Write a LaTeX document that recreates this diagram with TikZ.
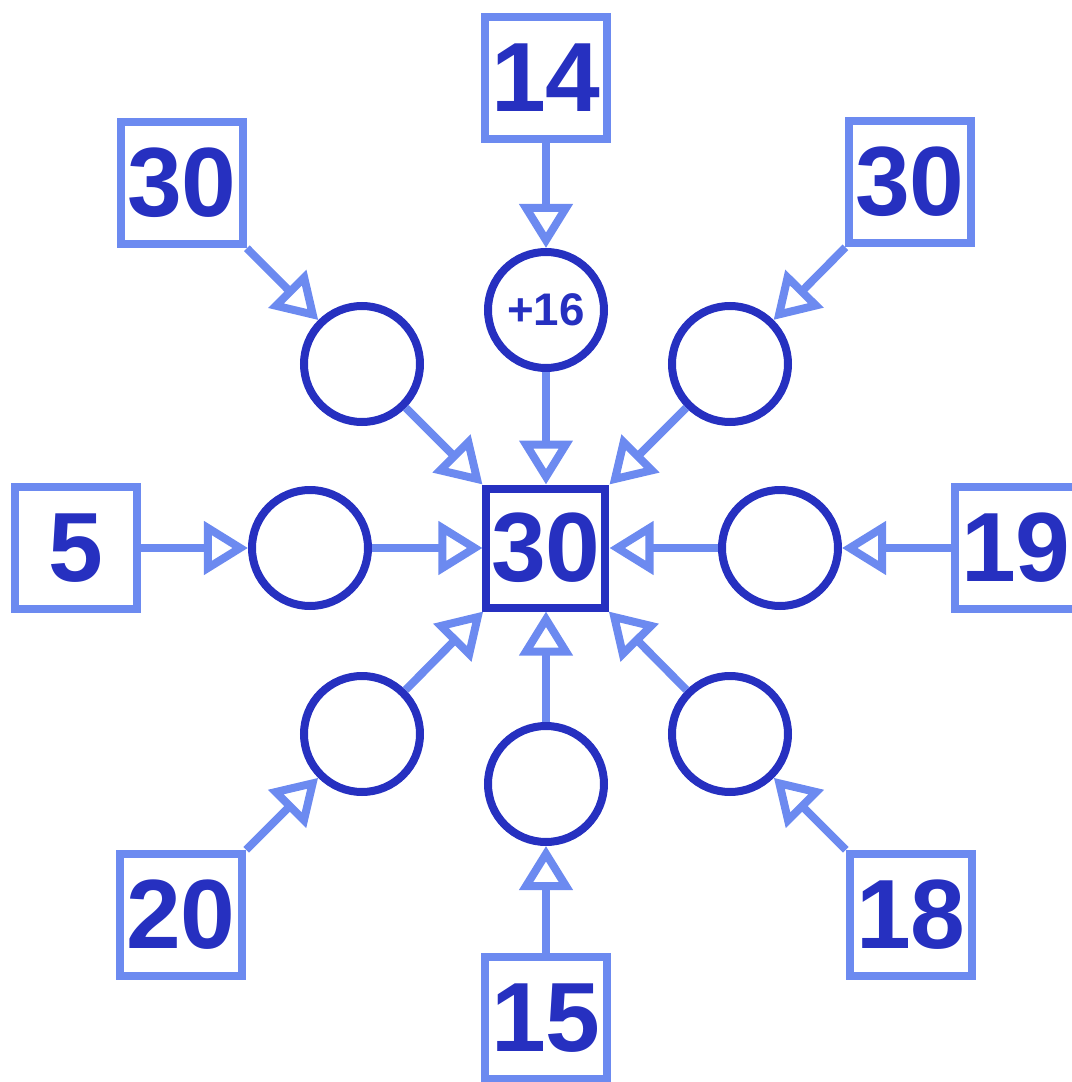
\documentclass[tikz,border=0pt]{standalone}
\usepackage{fontspec}
\setmainfont{Liberation Sans}
\usetikzlibrary{arrows.meta}
\definecolor{inkblue}{RGB}{38,48,192}
\definecolor{paleblue}{RGB}{108,138,240}

\begin{document}
\begin{tikzpicture}[
		numbox/.style = {draw=paleblue, line width=0.085cm, minimum size=1.22cm, inner sep=0pt, text=inkblue, font=\fontsize{28}{28}\selectfont\bfseries},
		goalbox/.style = {draw=inkblue, line width=0.08cm, minimum size=1.19cm, inner sep=0pt, text=inkblue, font=\fontsize{28}{28}\selectfont\bfseries},
		opcircle/.style = {circle, draw=inkblue, line width=0.08cm, minimum size=1.16cm, inner sep=0pt, text=inkblue, font=\fontsize{13}{13}\selectfont\bfseries},
		feed/.style = {draw=paleblue, line width=0.08cm, -{Triangle[open, length=0.44cm, width=0.52cm]}}
	]
			\useasboundingbox (-5.46,-5.34) rectangle (5.26,5.48);

			\node [goalbox] (goal) at (0,0) {30};

			\node [opcircle] (cn) at (0,2.38) {+16};
			\node [opcircle] (cs) at (0,-2.36) {};
			\node [opcircle] (cw) at (-2.36,0) {};
			\node [opcircle] (ce) at (2.34,0) {};
			\node [opcircle] (cnw) at (-1.84,1.84) {};
			\node [opcircle] (cne) at (1.84,1.84) {};
			\node [opcircle] (csw) at (-1.84,-1.86) {};
			\node [opcircle] (cse) at (1.84,-1.86) {};

			\node [numbox] (bn) at (0,4.70) {14};
			\node [numbox] (bs) at (0,-4.70) {15};
			\node [numbox] (bw) at (-4.70,0) {5};
			\node [numbox] (be) at (4.70,0) {19};
			\node [numbox] (bnw) at (-3.64,3.65) {30};
			\node [numbox] (bne) at (3.64,3.66) {30};
			\node [numbox] (bsw) at (-3.65,-3.67) {20};
			\node [numbox] (bse) at (3.65,-3.67) {18};

			\draw [feed] (bn) to (cn);
			\draw [feed] (bs) to (cs);
			\draw [feed] (bw) to (cw);
			\draw [feed] (be) to (ce);
			\draw [feed] (bnw) to (cnw);
			\draw [feed] (bne) to (cne);
			\draw [feed] (bsw) to (csw);
			\draw [feed] (bse) to (cse);

			\draw [feed] (cn) to (goal);
			\draw [feed] (cs) to (goal);
			\draw [feed] (cw) to (goal);
			\draw [feed] (ce) to (goal);
			\draw [feed] (cnw) to (goal);
			\draw [feed] (cne) to (goal);
			\draw [feed] (csw) to (goal);
			\draw [feed] (cse) to (goal);
		\end{tikzpicture}
\end{document}
